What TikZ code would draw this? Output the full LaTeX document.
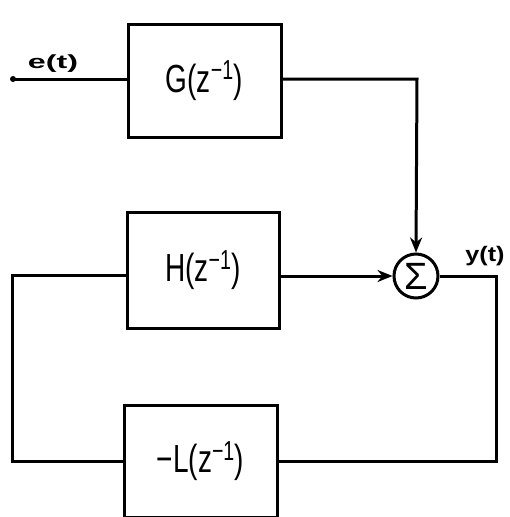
\documentclass[tikz,border=0pt]{standalone}
\usepackage{fontspec}
\setmainfont{Liberation Sans}
\usetikzlibrary{arrows.meta}
\begin{document}
\begin{tikzpicture}[x=1pt,y=-1pt,
  blk/.style={draw,line width=3pt,minimum width=153pt,minimum height=113pt,inner sep=0pt},
  wire/.style={line width=3pt},
  arr/.style={wire,-{Stealth[length=15pt,width=12pt]}},
  sm/.style={inner sep=0pt}]
\useasboundingbox (0,0) rectangle (510,517);
\node[blk,minimum height=113pt] (G) at (204.5,80.5) {\scalebox{1}[1.4]{\fontsize{28}{30}\selectfont G(z\textsuperscript{−1})}};
\node[blk,minimum width=152pt,minimum height=116pt] (H) at (203,270) {\scalebox{1}[1.4]{\fontsize{28}{30}\selectfont H(z\textsuperscript{−1})}};
\node[blk,minimum height=112pt] (L) at (200.5,461) {\scalebox{1}[1.4]{\fontsize{28}{30}\selectfont −L(z\textsuperscript{−1})}};
\node[draw,circle,line width=3pt,minimum size=44pt,inner sep=0pt] (S) at (416,276) {\fontsize{38}{40}\selectfont Σ};
\coordinate (in) at (13,79);
\fill (in) circle (3pt);
\node[sm] (e) at (53,64) {\scalebox{1.7}[1]{\bfseries\fontsize{19}{20}\selectfont e(t)}};
\node[sm] (y) at (485,256) {\scalebox{1.2}[1]{\bfseries\fontsize{21}{22}\selectfont y(t)}};
\coordinate (gc) at (417,79);
\coordinate (hl) at (12,275);
\coordinate (ll) at (12,461);
\coordinate (rr) at (496,276);
\coordinate (rb) at (496,461);
\draw[wire] (in) -- (G.west |- in);
\draw[arr] (G.east |- gc) -- (gc) -- (S.north);
\draw[arr] (H.east |- S) -- (S.west);
\draw[wire,line join=miter] (H.west |- hl) -- (hl) -- (ll) -- (L.west |- ll);
\draw[wire,line join=miter] (S.east) -- (rr) -- (rb) -- (L.east |- rb);
\end{tikzpicture}
\end{document}
